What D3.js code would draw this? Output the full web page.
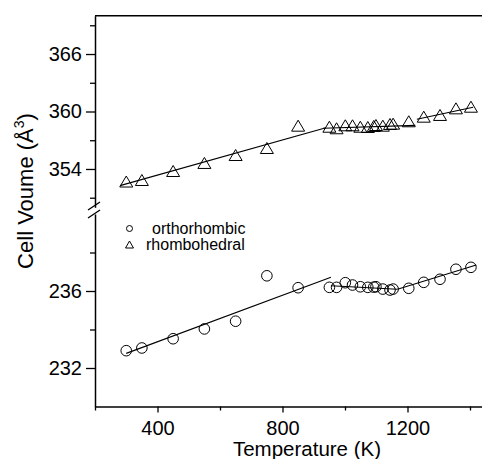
<!DOCTYPE html>
<html>
<head>
<meta charset="utf-8">
<script src="https://cdn.jsdelivr.net/npm/d3@7"></script>
<style>
  body { margin: 0; background: #fff; }
  svg { display: block; font-family: "Liberation Sans", Arial, sans-serif; }
</style>
</head>
<body>
<div id="chart"></div>
<script>
// Temperatures (K) of the measured points
const temps = [300, 350, 450, 550, 650, 750, 850, 950, 973, 1001, 1024, 1049, 1073, 1092, 1099, 1121, 1144, 1154, 1204, 1252, 1304, 1355, 1403];

// Rhombohedral cell volume (upper panel)
const rhombo = [352.69, 352.85, 353.79, 354.63, 355.46, 356.19, 358.52, 358.41, 358.25, 358.56, 358.56, 358.41, 358.38, 358.49, 358.59, 358.52, 358.70, 358.73, 358.98, 359.46, 359.64, 360.33, 360.50];

// Orthorhombic cell volume (lower panel)
const ortho = [232.90, 233.04, 233.52, 234.03, 234.43, 236.79, 236.17, 236.19, 236.19, 236.43, 236.31, 236.22, 236.19, 236.20, 236.22, 236.10, 236.05, 236.10, 236.14, 236.45, 236.61, 237.13, 237.23];

// Fitted line segments, [T, V] end points
const rhomboFits = [
  [[280, 352.26], [939, 358.31]],
  [[930, 358.25], [1225, 358.55]],
  [[1230, 359.2], [1410, 360.45]]
];
const orthoFits = [
  [[300, 232.76], [955, 236.71]],
  [[955, 236.27], [1168, 236.09]],
  [[1168, 236.09], [1420, 237.35]]
];

const xMajor = [400, 800, 1200];
const xMinor = [200, 600, 1000, 1400];
const upperMajor = [354, 360, 366];
const upperMinor = [351, 357, 363, 369];
const lowerMajor = [232, 236];
const lowerMinor = [234, 238];

const W = 482, H = 459;
const svg = d3.select("#chart").append("svg")
  .attr("width", W).attr("height", H);

const x = d3.scaleLinear().domain([200, 1460]).range([95, 488.75]);
const yU = d3.scaleLinear().domain([350, 370]).range([207.3, 15.7]);
const yL = d3.scaleLinear().domain([230, 240]).range([406.5, 214]);

function styleAxis(g) {
  g.selectAll("path").attr("stroke", "#000").attr("stroke-width", 1.5);
  g.selectAll("line").attr("stroke", "#000").attr("stroke-width", 1.3);
  g.selectAll("text").attr("font-size", 20).attr("fill", "#000")
    .attr("font-family", "Liberation Sans, Arial, sans-serif");
}

// x axis
svg.append("g").attr("transform", `translate(0,${yL(230)})`)
  .call(d3.axisBottom(x).tickValues(xMinor).tickSize(4).tickSizeOuter(0).tickFormat(""))
  .call(styleAxis);
svg.append("g").attr("transform", `translate(0,${yL(230)})`)
  .call(d3.axisBottom(x).tickValues(xMajor).tickSize(6).tickSizeOuter(0).tickPadding(8)
    .tickFormat(d3.format("d")))
  .call(styleAxis)
  .call(g => g.select(".domain").remove());

// y axes (broken)
[[yU, upperMajor, upperMinor], [yL, lowerMajor, lowerMinor]].forEach(([sc, maj, min]) => {
  svg.append("g").attr("transform", `translate(${x(200)},0)`)
    .call(d3.axisLeft(sc).tickValues(min).tickSize(5).tickSizeOuter(0).tickFormat(""))
    .call(styleAxis);
  svg.append("g").attr("transform", `translate(${x(200)},0)`)
    .call(d3.axisLeft(sc).tickValues(maj).tickSize(9).tickSizeOuter(0).tickPadding(4)
      .tickFormat(d3.format("d")))
    .call(styleAxis)
    .call(g => g.select(".domain").remove());
});

// break marks
const bx = x(200);
svg.append("g").selectAll("line")
  .data([203, 211])
  .join("line")
  .attr("x1", bx - 7).attr("x2", bx + 5)
  .attr("y1", d => d + 7).attr("y2", d => d - 1)
  .attr("stroke", "#000").attr("stroke-width", 1.3);

// top frame line
svg.append("line")
  .attr("x1", x(200)).attr("x2", x(1460))
  .attr("y1", yU(370)).attr("y2", yU(370))
  .attr("stroke", "#000").attr("stroke-width", 1.5);

// fit lines
const lineU = d3.line().x(d => x(d[0])).y(d => yU(d[1]));
const lineL = d3.line().x(d => x(d[0])).y(d => yL(d[1]));
svg.append("g").selectAll("path").data(rhomboFits).join("path")
  .attr("d", lineU).attr("fill", "none").attr("stroke", "#000").attr("stroke-width", 1.1);
svg.append("g").selectAll("path").data(orthoFits).join("path")
  .attr("d", lineL).attr("fill", "none").attr("stroke", "#000").attr("stroke-width", 1.1);

// markers
const triPath = (w, h) => `M0,${-h / 2}L${w / 2},${h / 2}L${-w / 2},${h / 2}Z`;

svg.append("g").selectAll("path")
  .data(temps.map((t, i) => [t, rhombo[i]]))
  .join("path")
  .attr("transform", d => `translate(${x(d[0])},${yU(d[1])})`)
  .attr("d", triPath(13, 11))
  .attr("fill", "none").attr("stroke", "#000").attr("stroke-width", 1);

svg.append("g").selectAll("circle")
  .data(temps.map((t, i) => [t, ortho[i]]))
  .join("circle")
  .attr("cx", d => x(d[0])).attr("cy", d => yL(d[1]))
  .attr("r", 5.3)
  .attr("fill", "none").attr("stroke", "#000").attr("stroke-width", 1);

// legend
svg.append("circle").attr("cx", 129.5).attr("cy", 228.5).attr("r", 3)
  .attr("fill", "none").attr("stroke", "#000").attr("stroke-width", 1);
svg.append("text").attr("x", 152).attr("y", 234).attr("font-size", 16)
  .text("orthorhombic");
svg.append("path").attr("transform", "translate(129.5,244.5)").attr("d", triPath(8, 7))
  .attr("fill", "none").attr("stroke", "#000").attr("stroke-width", 1);
svg.append("text").attr("x", 146).attr("y", 250).attr("font-size", 16)
  .text("rhombohedral");

// axis titles
svg.append("text")
  .attr("x", 307).attr("y", 456)
  .attr("text-anchor", "middle").attr("font-size", 20.5)
  .text("Temperature (K)");

const yt = svg.append("text")
  .attr("transform", "translate(33,191) rotate(-90)")
  .attr("text-anchor", "middle").attr("font-size", 22);
yt.append("tspan").text("Cell Voume (Å");
yt.append("tspan").attr("dy", -9).attr("font-size", 14).text("3");
yt.append("tspan").attr("dy", 9).text(")");
</script>
</body>
</html>
